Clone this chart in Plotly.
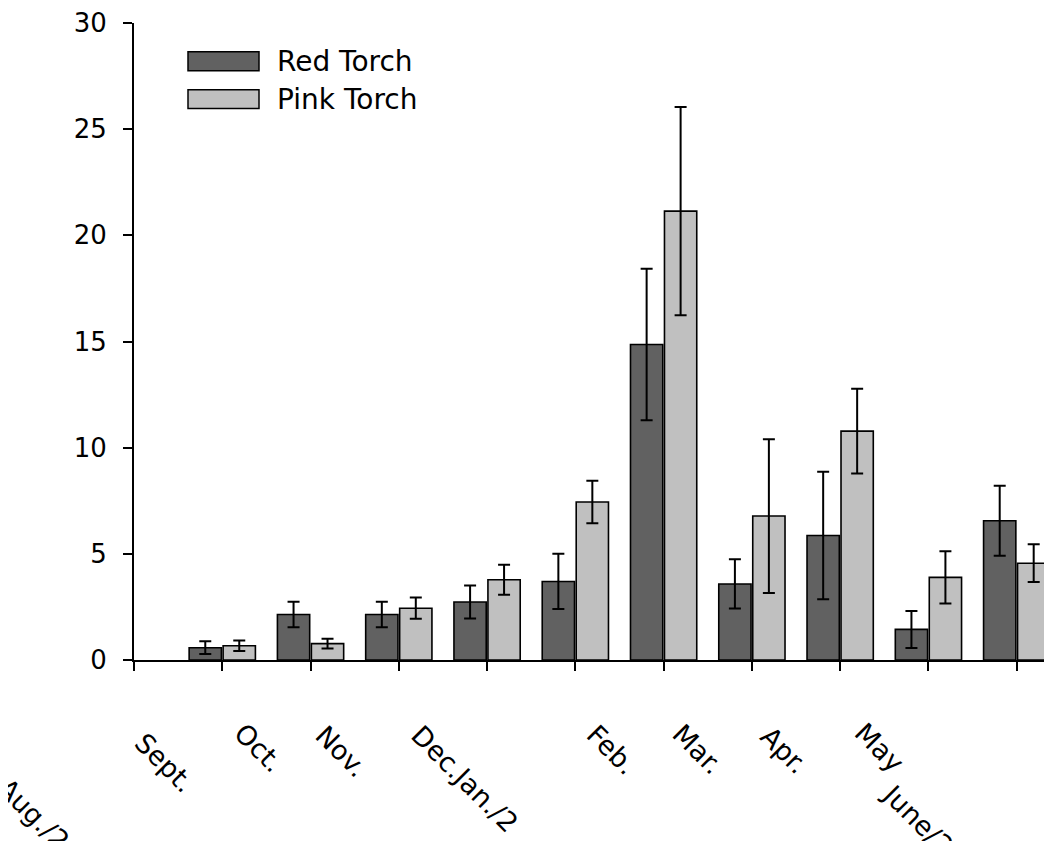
import plotly.graph_objects as go

categories = ["Aug./2", "Sept.", "Oct.", "Nov.", "Dec.Jan./2", "Feb.", "Mar.", "Apr.", "May", "June/2"]
red_torch = [0.58, 2.14, 2.14, 2.73, 3.70, 14.86, 3.58, 5.86, 1.44, 6.56]
red_err = [0.30, 0.60, 0.60, 0.78, 1.30, 3.57, 1.16, 3.00, 0.87, 1.65]
pink_torch = [0.67, 0.77, 2.44, 3.78, 7.44, 21.14, 6.78, 10.78, 3.89, 4.56]
pink_err = [0.25, 0.23, 0.50, 0.71, 1.00, 4.90, 3.62, 2.00, 1.23, 0.89]
y_ticks = [0, 5, 10, 15, 20, 25, 30]

# the page body has an 8px default margin; work in page pixels and convert
OFF = 8
PAGE_W, PAGE_H = 1052, 841
W, H = PAGE_W - OFF, PAGE_H - OFF
L, R_EDGE, T, B_EDGE = 134, 1052, 20, 660  # page pixels of the plot area

FONT = "DejaVu Sans, Verdana, sans-serif"
FS = 26
FS_LEG = 28
FS_CAT = 27
RED_COLOR = "#616161"
PINK_COLOR = "#c0c0c0"

xpos = list(range(1, len(categories) + 1))

fig = go.Figure()
fig.add_trace(go.Bar(
    x=xpos, y=red_torch, name="Red Torch",
    marker=dict(color=RED_COLOR, line=dict(color="black", width=1.6)),
    error_y=dict(type="data", array=red_err, color="black", thickness=2, width=6),
    showlegend=False,
))
fig.add_trace(go.Bar(
    x=xpos, y=pink_torch, name="Pink Torch",
    marker=dict(color=PINK_COLOR, line=dict(color="black", width=1.6)),
    error_y=dict(type="data", array=pink_err, color="black", thickness=2, width=6),
    showlegend=False,
))

slot = 88.27
xmax = (R_EDGE - L) / slot


def px(x):
    return (x - L) / (R_EDGE - L)


def py(y):
    return (B_EDGE - y) / (B_EDGE - T)


# rotated category labels: page-pixel position of first glyph's top-left corner
label_pos = [(10, 777), (147, 731), (246, 722), (328, 724), (423, 724),
             (599, 723), (685, 723), (773, 725), (867, 721), (894, 783)]
annotations = []
for lab, (gx, gy) in zip(categories, label_pos):
    annotations.append(dict(
        text=lab, xref="paper", yref="paper",
        x=px(gx - 21), y=py(gy - 7.2),
        xanchor="left", yanchor="top", textangle=45, showarrow=False,
        font=dict(family=FONT, size=FS_CAT, color="black"),
    ))

# legend
legend_items = [("Red Torch", RED_COLOR, 49, 68), ("Pink Torch", PINK_COLOR, 87, 106)]
shapes = []
for name, col, y0, y1 in legend_items:
    shapes.append(dict(type="rect", xref="paper", yref="paper",
                       x0=px(188), x1=px(259), y0=py(y1), y1=py(y0),
                       fillcolor=col, line=dict(color="black", width=1.5)))
    annotations.append(dict(
        text=name, xref="paper", yref="paper", x=px(275), y=py((y0 + y1) / 2),
        xanchor="left", yanchor="middle", showarrow=False,
        font=dict(family=FONT, size=FS_LEG, color="black"),
    ))

fig.update_layout(
    width=W, height=H,
    margin=dict(l=L - OFF, r=PAGE_W - R_EDGE, t=T - OFF, b=PAGE_H - B_EDGE, pad=0),
    paper_bgcolor="white", plot_bgcolor="white",
    barmode="group", bargap=0.23, bargroupgap=0.05,
    font=dict(family=FONT, size=FS, color="black"),
    shapes=shapes, annotations=annotations,
    xaxis=dict(range=[0, xmax], tickvals=list(range(0, len(categories) + 1)),
               showticklabels=False, ticks="outside", ticklen=9, tickwidth=1.5,
               tickcolor="black", showline=True, linecolor="black", linewidth=2,
               showgrid=False, zeroline=False),
    yaxis=dict(range=[0, 30], tickvals=y_ticks, ticks="outside", ticklen=9,
               tickwidth=1.5, tickcolor="black", showline=True, linecolor="black",
               linewidth=2, showgrid=False, zeroline=False,
               tickfont=dict(family=FONT, size=FS, color="black"),
               ticklabelstandoff=11, ticklabeloverflow="allow"),
)

fig.write_html("out.html")
